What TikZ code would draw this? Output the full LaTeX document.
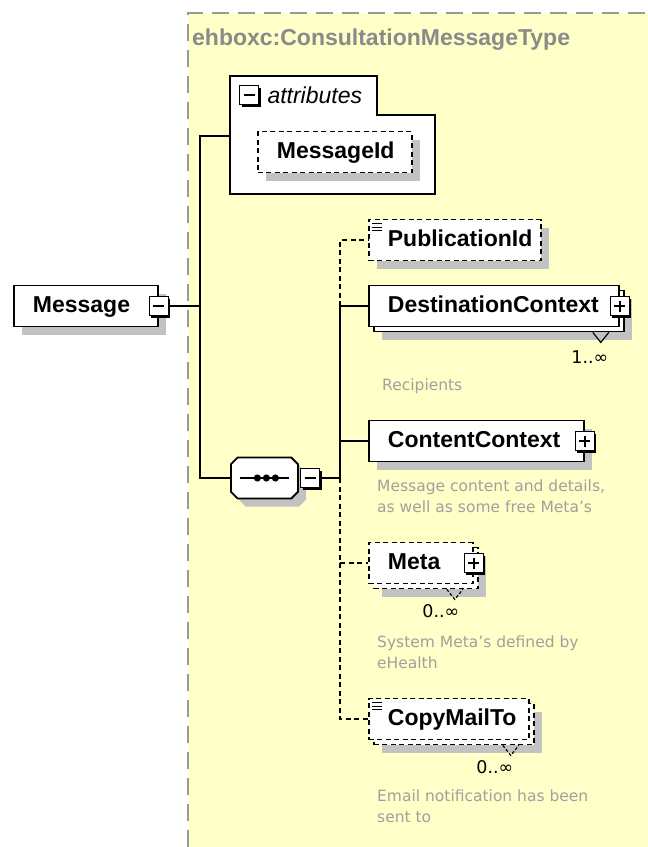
\documentclass[tikz,border=0pt]{standalone}
\usepackage{fontspec}
\setmainfont{Liberation Sans}
\newfontfamily\verdanalike{DejaVu Sans}
\usetikzlibrary{positioning,shadows,shapes.misc}
\definecolor{paleyellow}{HTML}{FFFFC8}
\definecolor{titlegray}{HTML}{8A8A8A}
\definecolor{notegray}{HTML}{A0A0A0}
\definecolor{shadegray}{HTML}{C2C2C2}
\newcommand\lblfont{\fontsize{23}{27}\selectfont\bfseries}
\newcommand\notefont{\verdanalike\fontsize{15.5}{21}\selectfont}
\newcommand\occfont{\verdanalike\fontsize{17.5}{20}\selectfont}

\tikzset{
  conn/.style={line width=1.9pt},
  optconn/.style={conn, dash pattern=on 5pt off 3.5pt},
  elem/.style={draw, fill=white, line width=1.8pt, anchor=west, font=\lblfont,
    minimum height=41pt, inner xsep=19pt, inner ysep=0pt, text height=17pt, text depth=5pt,
    align=left, execute at begin node={\hyphenpenalty=10000}},
  opt/.style={dash pattern=on 5pt off 3.5pt},
  lone/.style={drop shadow={shadow xshift=8pt, shadow yshift=-8pt, fill=shadegray, opacity=1}},
  stack/.style={drop shadow={shadow xshift=13pt, shadow yshift=-13pt, fill=shadegray, opacity=1},
    copy shadow={shadow xshift=5pt, shadow yshift=-5pt, draw=black, fill=white, line width=1.8pt, #1}},
  stack/.default={solid},
  expander/.style={draw, fill=white, line width=1.6pt, minimum size=19pt, inner sep=0pt,
    drop shadow={shadow xshift=2pt, shadow yshift=-2pt, fill=black, opacity=1}},
  collapse/.style={expander, path picture={
    \draw[line width=1.5pt] ([xshift=4pt]path picture bounding box.west) -- ([xshift=-4pt]path picture bounding box.east);}},
  expand/.style={expander, path picture={
    \draw[line width=1.5pt] ([xshift=4pt]path picture bounding box.west) -- ([xshift=-4pt]path picture bounding box.east)
      ([yshift=-4pt]path picture bounding box.north) -- ([yshift=4pt]path picture bounding box.south);}},
  note/.style={anchor=north west, inner sep=0pt, font=\notefont, text=notegray, align=left},
  occurs/.style={inner sep=0pt, font=\occfont}
}

\begin{document}
\begin{tikzpicture}[x=1pt, y=-1pt]
  \useasboundingbox (0,0) rectangle (648,847);
  % complex type frame
  \fill[paleyellow] (188,13) rectangle (648,847);
  \draw[gray!80, line width=1.8pt, dash pattern=on 17pt off 9pt] (188,847) -- (188,13) -- (648,13);
  \node[anchor=west, inner sep=0pt, font=\lblfont, text=titlegray] (title) at (192,40) {ehboxc:ConsultationMessageType};

  % root element
  \node[elem, lone, text width=106pt] (msg) at (13,306) {Message};
  \node[collapse] (msgexp) at (msg.east) {};

  % attributes group
  \draw[line width=1.8pt, fill=white] (230,76) -| (377,115) -| (435,194) -- (230,194) -- cycle;
  \node[collapse] (attrexp) at (249,95) {};
  \node[right=8pt of attrexp, inner sep=0pt, font=\fontsize{23}{27}\selectfont\itshape] (attrlbl) {attributes};
  \node[elem, lone, opt, text width=116pt] (msgid) at (257,152) {MessageId};
  \coordinate (attrW) at (230,136);

  % sequence compositor
  \node[chamfered rectangle, chamfered rectangle sep=9pt, draw, fill=white, line width=1.8pt,
    minimum width=67pt, minimum height=41pt, anchor=west, lone] (seq) at (230,478) {};
  \draw[conn] ([xshift=10pt]seq.west) -- ([xshift=-10pt]seq.east);
  \foreach \dx in {-7,2,11}
    \fill ([xshift=\dx pt]seq.center) circle (3.6pt);
  \node[collapse, anchor=west] (seqexp) at ([xshift=1pt]seq.east) {};

  % trunk
  \coordinate (trunk) at (200,306);
  \draw[conn] (msgexp.east) -- (trunk);
  \draw[conn] (attrW) -| (trunk) |- (seq.west);

  % children of the sequence
  \node[elem, opt, lone, text width=134pt] (pub) at (368,240) {PublicationId};
  \node[elem, stack, text width=212pt] (dest) at (368,306) {DestinationContext};
  \node[expand] (destexp) at (dest.east) {};
  \node[elem, lone, text width=177pt] (cont) at (368,441) {ContentContext};
  \node[expand] (contexp) at (cont.east) {};
  \node[elem, opt, stack=opt, text width=66pt] (meta) at (368,563) {Meta};
  \node[expand] (metaexp) at (meta.east) {};
  \node[elem, opt, stack=opt, text width=122pt] (copy) at (368,719) {CopyMailTo};

  % simple content marks
  \foreach \n in {pub,copy}
    \foreach \dy in {5,8.5,12}
      \draw[line width=1pt] ([shift={(4,\dy)}]\n.north west) -- ++(10,0);

  % repeat marks
  \draw[line width=1.2pt, fill=shadegray] ([shift={(-27,5)}]dest.south east) -- ++(8,10) -- ++(8,-10);
  \foreach \n in {meta,copy}
    \draw[line width=1.2pt, dash pattern=on 3pt off 2pt] ([shift={(-27,5)}]\n.south east) -- ++(8,10) -- ++(8,-10);

  % branches
  \coordinate (bSeq) at ([xshift=20pt]seqexp.east);
  \draw[conn] (seqexp.east) -- (bSeq) |- (dest.west);
  \draw[conn] (bSeq |- cont.west) -- (cont.west);
  \draw[optconn] (bSeq |- dest.west) |- (pub.west);
  \draw[optconn] (bSeq) |- (copy.west);
  \draw[optconn] (bSeq |- meta.west) -- (meta.west);

  % occurrences
  \node[occurs] (destocc) at ([shift={(-30,30)}]dest.south east) {1..∞};
  \node[occurs] (metaocc) at ([shift={(-33,27)}]meta.south east) {0..∞};
  \node[occurs] (copyocc) at ([shift={(-35,27)}]copy.south east) {0..∞};

  % annotations
  \node[note] (destnote) at (382,379) {Recipients};
  \node[note] (contnote) at (377,480) {Message content and details,\\as well as some free Meta’s};
  \node[note] (metanote) at (377,636) {System Meta’s defined by\\eHealth};
  \node[note] (copynote) at (377,790) {Email notification has been\\sent to};
\end{tikzpicture}
\end{document}
